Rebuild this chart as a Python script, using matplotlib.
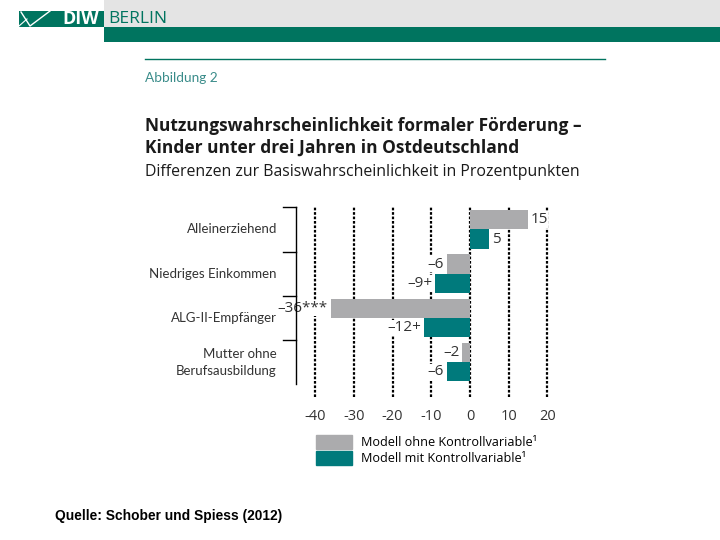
import numpy as np
import matplotlib
matplotlib.use('Agg')
import matplotlib.pyplot as plt
from matplotlib.patches import Rectangle, Patch
from matplotlib.lines import Line2D

# --- data ---
categories = ['Alleinerziehend', 'Niedriges Einkommen', 'ALG-II-Empfänger',
              'Mutter ohne\nBerufsausbildung']
ohne_kontrolle = [15, -6, -36, -2]
mit_kontrolle = [5, -9, -12, -6]
ohne_sig = ['', '', '***', '']
mit_sig = ['', '+', '+', '']
xticks = [-40, -30, -20, -10, 0, 10, 20]
xticklabels = ['-40', '-30', '-20', '-10', '0', '10', '20']
legend_labels = ['Modell ohne Kontrollvariable\u00b9',
                 'Modell mit Kontrollvariable\u00b9']

GRAU = '#ABABAD'
PETROL = '#007A7C'
DIW = '#00745F'
TXT = '#333333'
FONT = 'Lato'

W, H = 720, 540


def fx(x):
    return x / W


def fy(y):
    return 1 - y / H


fig = plt.figure(figsize=(7.2, 5.4), dpi=100)

# header band
fig.add_artist(Rectangle((fx(104), fy(27)), fx(720 - 104), 27 / H,
                         transform=fig.transFigure, color='#E4E4E4', lw=0))
fig.add_artist(Rectangle((fx(104), fy(42)), fx(720 - 104), 15 / H,
                         transform=fig.transFigure, color=DIW, lw=0))
fig.add_artist(Rectangle((fx(19), fy(27)), fx(85), 16 / H,
                         transform=fig.transFigure, color=DIW, lw=0))
fig.add_artist(Line2D([fx(21), fx(30), fx(50)], [fy(12), fy(26), fy(11)],
                      transform=fig.transFigure, color='white', lw=1))
fig.add_artist(Line2D([fx(19), fx(27)], [fy(26), fy(19)],
                      transform=fig.transFigure, color='white', lw=0.8))
fig.text(fx(62), fy(19), 'DIW', color='white', fontsize=13, fontweight='bold',
         family='Open Sans', va='center', ha='left')
fig.text(fx(108), fy(19), 'BERLIN', color=DIW, fontsize=12.5,
         family='Open Sans', va='center', ha='left')
fig.add_artist(Line2D([fx(145), fx(605)], [fy(59), fy(59)],
                      transform=fig.transFigure, color=DIW, lw=1))

# titles
fig.text(fx(145), fy(78), 'Abbildung 2', color='#3A8C8A', fontsize=9.8,
         family=FONT, va='center')
fig.text(fx(145), fy(126), 'Nutzungswahrscheinlichkeit formaler Förderung \u2013',
         color='#1A1A1A', fontsize=12.55, fontweight='bold', family='Open Sans',
         va='center')
fig.text(fx(145), fy(148), 'Kinder unter drei Jahren in Ostdeutschland',
         color='#1A1A1A', fontsize=12.55, fontweight='bold', family='Open Sans',
         va='center')
fig.text(fx(145), fy(172), 'Differenzen zur Basiswahrscheinlichkeit in Prozentpunkten',
         color='#1A1A1A', fontsize=11.4, family='Open Sans', va='center')

# chart
ppu = 3.87
x0 = 470
xmin, xmax = -45, 23
left = x0 + xmin * ppu
ax = fig.add_axes([fx(left), fy(397), (xmax - xmin) * ppu / W, 190 / H])

y = np.arange(len(categories))
h = 0.437
ax.barh(y - h / 2, ohne_kontrolle, height=h, color=GRAU, zorder=3)
ax.barh(y + h / 2, mit_kontrolle, height=h, color=PETROL, zorder=3)

ax.set_xlim(xmin, xmax)
ax.set_ylim(3.79, -0.509)
ax.set_xticks(xticks)
ax.set_xticklabels(xticklabels, family='Open Sans', fontsize=10.5, color=TXT)
ax.set_yticks([])
ax.tick_params(axis='x', length=0, pad=9)
for s in ax.spines.values():
    s.set_visible(False)
ax.grid(axis='x', color='black', lw=1.6, linestyle=(0, (1.2, 0.8)))
ax.set_axisbelow(True)


def fmt(v, sig):
    s = str(abs(v))
    if v < 0:
        s = '\u2013' + s
    return s + sig


box = dict(fc='white', ec='none', pad=0.3)
for vals, sigs, off in ((ohne_kontrolle, ohne_sig, -h / 2),
                        (mit_kontrolle, mit_sig, h / 2)):
    for i, (v, sg) in enumerate(zip(vals, sigs)):
        if v >= 0:
            ax.text(v + 0.6, i + off, fmt(v, sg), ha='left', va='center',
                    fontsize=11, color=TXT, family='Open Sans', zorder=2,
                    bbox=box)
        else:
            ax.text(v - 0.7, i + off, fmt(v, sg), ha='right', va='center',
                    fontsize=11, color=TXT, family='Open Sans', zorder=2,
                    bbox=box)

# bracket on the left
tr = ax.get_yaxis_transform()
ax.plot([0, 0], [-0.509, 3.5], transform=tr, color='black', lw=1, clip_on=False)
for yy in [-0.509, 0.5, 1.5, 2.5]:
    ax.plot([-0.05, 0], [yy, yy], transform=tr, color='black', lw=1, clip_on=False)
for i, c in enumerate(categories):
    ax.text(-0.072, i, c, transform=tr, ha='right', va='center', fontsize=9.5,
            color=TXT, family=FONT, linespacing=1.5)

# legend
handles = [Patch(color=GRAU), Patch(color=PETROL)]
fig.legend(handles, legend_labels, loc='upper left',
           bbox_to_anchor=(fx(316), fy(435)), frameon=False, borderpad=0,
           borderaxespad=0, handlelength=2.85, handleheight=1.32,
           labelspacing=0.12, handletextpad=0.7,
           prop={'family': 'Open Sans', 'size': 9.1})

fig.text(fx(55), fy(516), 'Quelle: Schober und Spiess (2012)', fontsize=9.9,
         fontweight='bold', family='Liberation Sans', va='center', color='black')

fig.savefig('out.png', dpi=100)
